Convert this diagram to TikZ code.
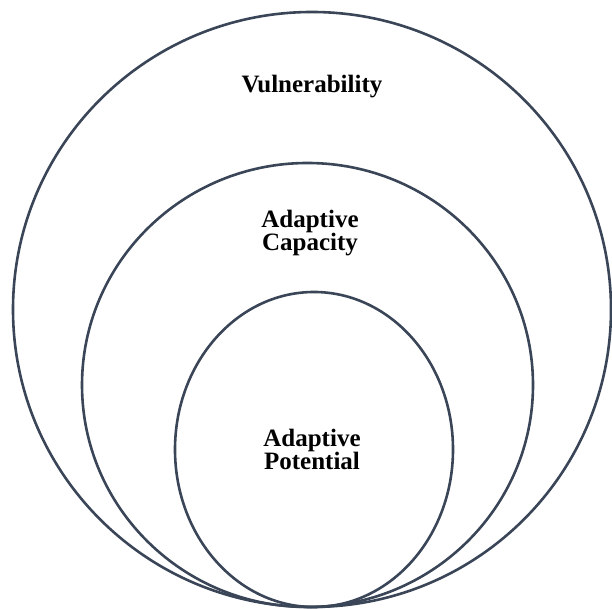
\documentclass[tikz,border=0pt]{standalone}
\usepackage{fontspec}
\setmainfont{Liberation Serif}
\usetikzlibrary{positioning}
\definecolor{SlateLine}{RGB}{58, 70, 88}

\begin{document}
\begin{tikzpicture}[x=1pt, y=1pt,
                    ring/.style={draw=SlateLine, line width=2.6pt},
                    lbl/.style={font=\fontsize{25}{23.5}\selectfont\bfseries, align=center, inner sep=0pt, anchor=base}
                ]
                    \useasboundingbox (0,0) rectangle (612,609);

                    % rings, all touching at the bottom
                    \draw[ring] (312,299.5) ellipse [x radius=299, y radius=297.5];
                    \draw[ring] (307.5,224) ellipse [x radius=225.5, y radius=222];
                    \draw[ring] (314,159.5) ellipse [x radius=139, y radius=157.5];

                    \node[lbl] (vuln) at (312,516) {Vulnerability};
                    \node[lbl] (capacity) at (310,358) {Adaptive\\Capacity};
                    \node[lbl] (potential) at (312,139) {Adaptive\\Potential};
                \end{tikzpicture}
\end{document}
